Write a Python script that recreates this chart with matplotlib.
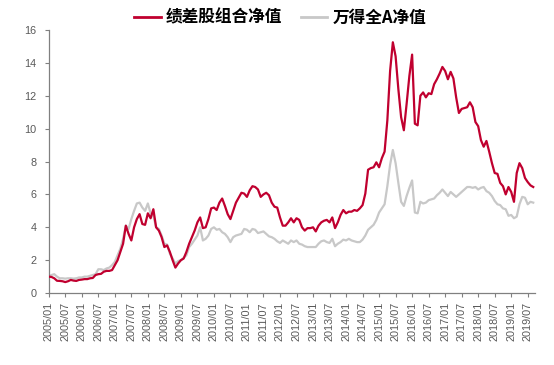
import matplotlib
matplotlib.use("Agg")
import matplotlib.pyplot as plt
import pandas as pd

plt.rcParams['font.family'] = ['Liberation Sans', 'DejaVu Sans']

dates = pd.date_range("2005-01-01", periods=177, freq="MS")
tick_labels = [f"{y}/{m:02d}" for y in range(2005, 2020) for m in (1, 7)]

poor_perf = [
    1.0, 0.98, 0.9, 0.75, 0.74, 0.72, 0.67, 0.72, 0.8, 0.76,
    0.74, 0.8, 0.82, 0.85, 0.85, 0.9, 0.92, 1.1, 1.15, 1.17,
    1.3, 1.35, 1.35, 1.4, 1.7, 2.0, 2.5, 3.0, 4.1, 3.6,
    3.2, 4.0, 4.5, 4.8, 4.2, 4.15, 4.85, 4.55, 5.1, 4.0,
    3.8, 3.4, 2.8, 2.9, 2.5, 2.0, 1.55, 1.8, 2.0, 2.1,
    2.5, 3.0, 3.4, 3.8, 4.3, 4.6, 3.95, 4.0, 4.5, 5.15,
    5.2, 5.05, 5.5, 5.75, 5.3, 4.8, 4.5, 5.0, 5.5, 5.8,
    6.1, 6.05, 5.85, 6.25, 6.5, 6.45, 6.3, 5.85, 6.0, 6.1,
    5.95, 5.5, 5.25, 5.2, 4.6, 4.1, 4.1, 4.3, 4.55, 4.3,
    4.55, 4.45, 4.0, 3.8, 3.95, 3.95, 4.0, 3.75, 4.1, 4.3,
    4.4, 4.45, 4.3, 4.6, 3.95, 4.3, 4.75, 5.05, 4.85, 4.95,
    4.95, 5.05, 5.0, 5.15, 5.35, 6.05, 7.5, 7.6, 7.65, 7.95,
    7.65, 8.2, 8.6, 10.5, 13.5, 15.25, 14.4, 12.4, 10.7, 9.9,
    11.5, 13.2, 14.5, 10.3, 10.2, 12.0, 12.2, 11.9, 12.15, 12.1,
    12.7, 13.0, 13.35, 13.75, 13.5, 13.0, 13.45, 13.05, 11.9, 10.95,
    11.2, 11.25, 11.3, 11.6, 11.3, 10.4, 10.15, 9.3, 8.9, 9.25,
    8.6, 7.9, 7.3, 7.25, 6.7, 6.5, 6.0, 6.45, 6.15, 5.55,
    7.3, 7.9, 7.6, 7.0, 6.75, 6.55, 6.45,
]

wind_a = [
    1.0, 1.1, 1.15, 1.0, 0.9, 0.9, 0.88, 0.9, 0.9, 0.88,
    0.9, 0.95, 0.95, 1.0, 1.0, 1.05, 1.1, 1.15, 1.45, 1.45,
    1.4, 1.5, 1.55, 1.7, 1.9, 2.3, 2.7, 3.3, 4.1, 3.9,
    4.5, 5.0, 5.45, 5.5, 5.2, 5.0, 5.45, 4.85, 4.7, 4.0,
    3.9, 3.5, 3.0, 2.95, 2.4, 2.1, 1.8, 1.95, 2.0, 2.15,
    2.3, 2.8, 3.0, 3.25, 3.5, 4.0, 3.2, 3.3, 3.5, 3.9,
    4.0, 3.85, 3.9, 3.7, 3.6, 3.4, 3.1, 3.4, 3.5, 3.55,
    3.6, 3.9, 3.85, 3.7, 3.9, 3.85, 3.65, 3.7, 3.75, 3.6,
    3.45, 3.4, 3.3, 3.15, 3.05, 3.2, 3.1, 3.0, 3.2, 3.1,
    3.2, 3.0, 2.95, 2.85, 2.8, 2.8, 2.8, 2.8, 3.0, 3.15,
    3.2, 3.1, 3.05, 3.3, 2.85, 3.0, 3.1, 3.25, 3.2, 3.3,
    3.2, 3.15, 3.1, 3.1, 3.25, 3.5, 3.85, 4.0, 4.15, 4.45,
    4.9, 5.15, 5.4, 6.5, 7.8, 8.7, 7.9, 6.7, 5.55, 5.3,
    5.9, 6.4, 6.85, 4.9, 4.85, 5.55, 5.45, 5.5, 5.65, 5.7,
    5.75, 5.95, 6.1, 6.3, 6.1, 5.9, 6.15, 6.0, 5.85, 6.0,
    6.15, 6.3, 6.45, 6.45, 6.4, 6.45, 6.3, 6.4, 6.45, 6.2,
    6.1, 5.9, 5.6, 5.4, 5.35, 5.15, 5.1, 4.7, 4.75, 4.55,
    4.65, 5.4, 5.85, 5.8, 5.4, 5.55, 5.5,
]

series_names = ["绩差股组合净值", "万得全A净值"]
colors = ["#C0002F", "#C8C8C8"]

fig = plt.figure(figsize=(5.54, 3.65), dpi=100)
ax = fig.add_axes([0.088, 0.197, 0.878, 0.721])

x = list(range(len(dates)))
l1, = ax.plot(x, poor_perf, color=colors[0], lw=1.6, zorder=3)
l2, = ax.plot(x, wind_a, color=colors[1], lw=1.6, zorder=2)

ax.set_ylim(0, 16)
ax.set_yticks(range(0, 17, 2))
ax.set_xlim(0, 176.7)
ax.set_xticks(range(0, 175, 6))
ax.set_xticklabels(tick_labels, rotation=90)

for side in ["top", "right"]:
    ax.spines[side].set_visible(False)
for side in ["left", "bottom"]:
    ax.spines[side].set_color("#808080")
    ax.spines[side].set_linewidth(0.9)
ax.tick_params(axis="both", colors="#808080", length=3, width=0.8,
               labelcolor="#595959", labelsize=7.8)
ax.tick_params(axis="y", pad=6)

leg = fig.legend([l1, l2], series_names, loc="center", ncol=2,
                 bbox_to_anchor=(0.506, 0.952), frameon=False,
                 handlelength=1.6, columnspacing=1.1, handletextpad=0.3,
                 prop={"family": ["Noto Sans CJK SC", "DejaVu Sans"],
                       "weight": "bold", "size": 12})
for line in leg.get_lines():
    line.set_linewidth(2)

fig.savefig("out.png", dpi=100)
